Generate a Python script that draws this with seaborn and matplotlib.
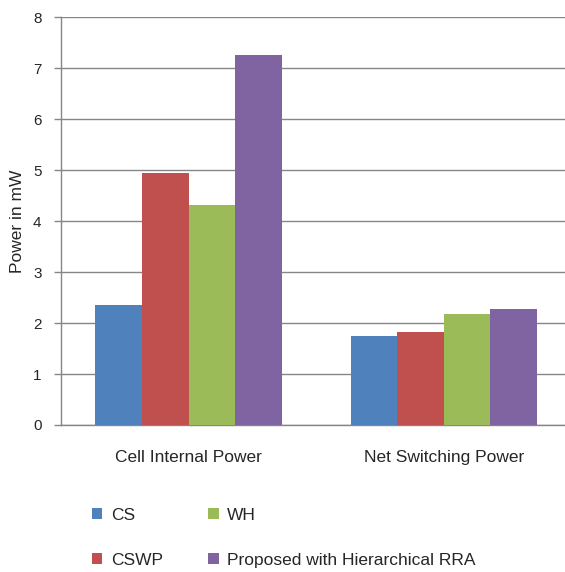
import matplotlib
matplotlib.use("Agg")
import matplotlib.pyplot as plt
import seaborn as sns
import pandas as pd
from matplotlib.patches import Patch

categories = ["Cell Internal Power", "Net Switching Power"]
series = ["CS", "CSWP", "WH", "Proposed with Hierarchical RRA"]
cs = [2.35, 1.75]
cswp = [4.95, 1.82]
wh = [4.32, 2.17]
proposed = [7.25, 2.27]
colors = ["#4F81BD", "#C0504D", "#9BBB59", "#8064A2"]
yticks = [0, 1, 2, 3, 4, 5, 6, 7, 8]

rows = []
for name, vals in zip(series, [cs, cswp, wh, proposed]):
    for c, v in zip(categories, vals):
        rows.append({"Category": c, "Series": name, "Power": v})
df = pd.DataFrame(rows)

sns.set_style("white")
plt.rcParams['font.family'] = ['Liberation Sans', 'DejaVu Sans']

fig = plt.figure(figsize=(5.65, 5.72), dpi=100)
ax = fig.add_axes([0.108, 0.257, 0.903, 0.713])

sns.barplot(data=df, x="Category", y="Power", hue="Series", hue_order=series,
            palette=colors, width=0.73, saturation=1, ax=ax, legend=False,
            edgecolor="none", zorder=3)

ax.set_ylim(0, 8)
ax.set_yticks(yticks)
ax.set_yticklabels([str(t) for t in yticks], fontsize=11)
ax.set_xlim(-0.5, 1.5)
ax.set_xticks([0.5], minor=True)
ax.set_xticks([0, 1])
ax.set_xticklabels(categories, fontsize=12.5)
ax.tick_params(axis='x', which='major', length=0, pad=18)
ax.tick_params(axis='x', which='minor', length=5, color="#868686", width=1)
ax.tick_params(axis='y', length=5, color="#868686", width=1, pad=9, left=True)
ax.grid(axis='y', color="#868686", linewidth=1, zorder=0)
ax.set_axisbelow(True)
for s in ["top", "right"]:
    ax.spines[s].set_visible(False)
for s in ["left", "bottom"]:
    ax.spines[s].set_color("#868686")
    ax.spines[s].set_linewidth(1)
ax.set_xlabel("")
ax.set_ylabel("Power in mW", fontsize=12.5, labelpad=6)

handles = [Patch(facecolor=c, edgecolor="none") for c in colors]
fig.legend(handles, series,
           ncol=2, loc="upper left", bbox_to_anchor=(0.135, 0.14),
           frameon=False, fontsize=12.5, handlelength=0.6, handleheight=0.6,
           handletextpad=0.5, columnspacing=2.6, labelspacing=1.75)

fig.savefig("out.png", dpi=100)
